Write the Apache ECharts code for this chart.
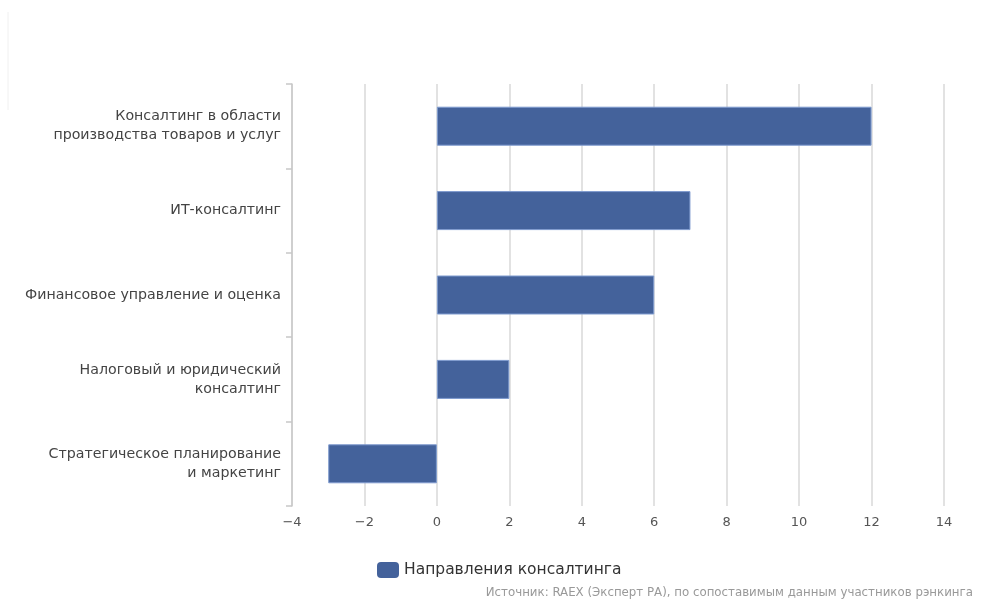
<!DOCTYPE html>
<html lang="ru">
<head>
    <meta charset="UTF-8">
    <title>Направления консалтинга</title>
    <script src="https://cdn.jsdelivr.net/npm/echarts@6/dist/echarts.min.js"></script>
    <style>
        html, body { margin: 0; padding: 0; background: #fff; }
        #chart { width: 981px; height: 601px; }
    </style>
</head>
<body>
<div id="chart"></div>
<script>
    // данные
    var categories = [
        'Консалтинг в области\nпроизводства товаров и услуг',
        'ИТ-консалтинг',
        'Финансовое управление и оценка',
        'Налоговый и юридический\nконсалтинг',
        'Стратегическое планирование\nи маркетинг'
    ];
    var values = [12, 7, 6, 2, -3];
    var seriesName = 'Направления консалтинга';
    var sourceText = 'Источник: RAEX (Эксперт РА), по сопоставимым данным участников рэнкинга';

    var chart = echarts.init(document.getElementById('chart'));

    var option = {
        animation: false,
        textStyle: { fontFamily: 'DejaVu Sans' },
        grid: { left: 292, right: 37, top: 84, bottom: 95 },
        legend: {
            data: [seriesName],
            left: 372,
            top: 557,
            itemWidth: 22,
            itemHeight: 16,
            itemGap: 8,
            itemStyle: { borderWidth: 0 },
            textStyle: { fontSize: 15.5, color: '#333', fontFamily: 'DejaVu Sans' }
        },
        graphic: [
            {
                type: 'text',
                right: 8,
                top: 587,
                style: { text: sourceText, fill: '#999', fontSize: 11.8, fontFamily: 'DejaVu Sans' }
            },
            {
                type: 'line',
                shape: { x1: 8, y1: 12, x2: 8, y2: 110 },
                style: { stroke: '#f0f0f0', lineWidth: 1 }
            }
        ],
        xAxis: {
            type: 'value',
            min: -4,
            max: 14,
            interval: 2,
            axisLine: { show: false },
            axisTick: { show: false },
            axisLabel: {
                color: '#555',
                fontSize: 13,
                margin: 10,
                formatter: function (v) { return String(v).replace('-', '\u2212'); }
            },
            splitLine: { lineStyle: { color: '#d9d9d9', width: 1.5 } }
        },
        yAxis: {
            type: 'category',
            inverse: true,
            data: categories,
            axisLine: { show: true, onZero: false, lineStyle: { color: '#c8c8c8', width: 1.5 } },
            axisTick: { show: true, length: 6, lineStyle: { color: '#c8c8c8', width: 1.5 } },
            axisLabel: { color: '#444', fontSize: 14.2, margin: 11, align: 'right', lineHeight: 19 }
        },
        series: [{
            name: seriesName,
            type: 'bar',
            data: values,
            barWidth: 39,
            itemStyle: { color: '#44629b', borderColor: '#7f9bcf', borderWidth: 1 }
        }]
    };

    chart.setOption(option);
</script>
</body>
</html>
